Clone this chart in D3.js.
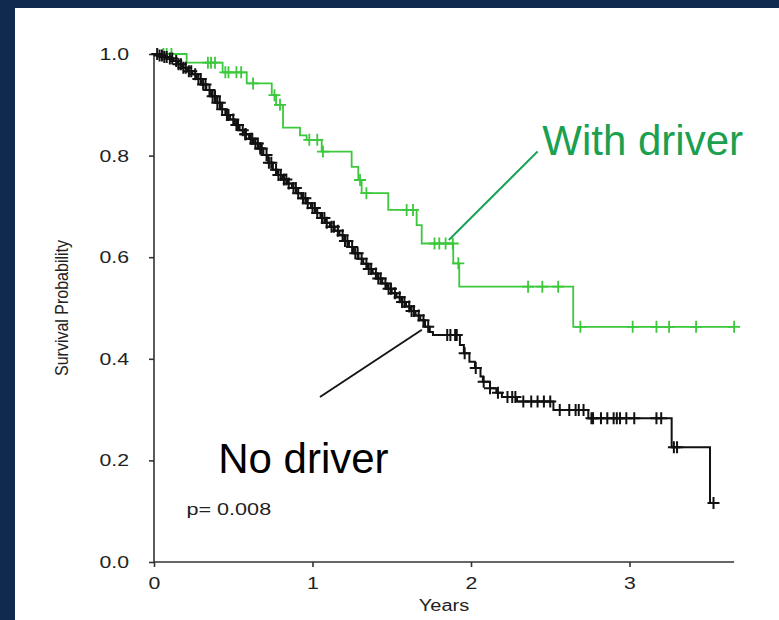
<!DOCTYPE html>
<html>
<head>
<meta charset="utf-8">
<script src="https://cdn.jsdelivr.net/npm/d3@7"></script>
<style>
  body { margin: 0; background: #10294f; }
  text { font-family: "Liberation Sans", Arial, sans-serif; }
</style>
</head>
<body>
<div id="container"></div>
<script>
/* CONSTANTS AND GLOBALS */
const width = 779,
  height = 620,
  margin = {top: 54, bottom: 58, left: 154, right: 45};

/* DATA */
// with driver: event times (years) and survival after each event
const greenTimes = [0, 0.206, 0.433, 0.585, 0.743, 0.77, 0.814, 0.921, 0.963, 1.058, 1.247, 1.289, 1.31, 1.478, 1.657, 1.689, 1.888, 1.926, 2.645]
const greenSurv  = [1, 0.983, 0.964, 0.942, 0.919, 0.90, 0.855, 0.84, 0.831, 0.808, 0.778, 0.752, 0.726, 0.693, 0.663, 0.627, 0.588, 0.542, 0.463]
const greenCensor = [0.06, 0.08, 0.11, 0.34, 0.36, 0.385, 0.45, 0.47, 0.52, 0.55, 0.625, 0.76, 0.795, 0.98, 1.03, 1.066, 1.30, 1.34,
  1.594, 1.634, 1.77, 1.80, 1.84, 1.885, 1.92, 2.36, 2.45, 2.55, 2.69, 3.02, 3.17, 3.25, 3.42, 3.66]
const greenEnd = 3.66

// no driver
const blackTimes = [0, 0.03, 0.06, 0.09, 0.12, 0.15, 0.18, 0.21, 0.24, 0.27, 0.30, 0.33, 0.36, 0.39, 0.42, 0.45, 0.48, 0.51, 0.54, 0.57,
  0.60, 0.63, 0.66, 0.69, 0.72, 0.75, 0.78, 0.81, 0.84, 0.87, 0.90, 0.93, 0.96, 0.99, 1.02, 1.05, 1.08, 1.11, 1.14, 1.17,
  1.20, 1.23, 1.26, 1.29, 1.32, 1.35, 1.38, 1.41, 1.44, 1.47, 1.50, 1.53, 1.56, 1.59, 1.62, 1.65, 1.68, 1.71, 1.74, 1.76,
  1.93, 1.955, 1.99, 2.025, 2.06, 2.075, 2.12, 2.16, 2.195, 2.29, 2.52, 2.74, 3.266, 3.508]
const blackSurv = [1, 0.997, 0.994, 0.991, 0.986, 0.980, 0.973, 0.966, 0.960, 0.951, 0.940, 0.929, 0.917, 0.904, 0.891, 0.880, 0.871, 0.860, 0.850, 0.842,
  0.833, 0.824, 0.814, 0.801, 0.786, 0.772, 0.762, 0.753, 0.745, 0.736, 0.726, 0.716, 0.706, 0.697, 0.687, 0.677, 0.668, 0.660, 0.652, 0.643,
  0.632, 0.620, 0.608, 0.597, 0.587, 0.577, 0.568, 0.558, 0.548, 0.538, 0.529, 0.521, 0.512, 0.503, 0.494, 0.485, 0.476, 0.463, 0.453, 0.447,
  0.427, 0.411, 0.394, 0.382, 0.365, 0.355, 0.342, 0.333, 0.325, 0.316, 0.299, 0.283, 0.226, 0.116]
const blackCensor = [0.02, 0.035, 0.05, 0.065, 0.08, 0.10, 0.115, 0.14, 0.155, 0.17, 0.185, 0.20, 0.22, 0.235, 0.26, 0.28, 0.295, 0.31,
  0.325, 0.35, 0.37, 0.385, 0.40, 0.415, 0.43, 0.46, 0.47, 0.50, 0.52, 0.53, 0.56, 0.575, 0.58, 0.61, 0.62, 0.64, 0.655, 0.67, 0.68,
  0.71, 0.725, 0.74, 0.77, 0.785, 0.80, 0.82, 0.835, 0.85, 0.88, 0.895, 0.91, 0.94, 0.955, 0.97, 1.00, 1.015, 1.03, 1.06, 1.075,
  1.09, 1.12, 1.135, 1.16, 1.19, 1.205, 1.22, 1.25, 1.27, 1.285, 1.31, 1.34, 1.355, 1.37, 1.40, 1.415, 1.43, 1.46, 1.48, 1.495,
  1.52, 1.55, 1.565, 1.58, 1.61, 1.625, 1.64, 1.67, 1.70, 1.73,
  1.85, 1.87, 1.90, 1.91, 1.96, 2.03, 2.08, 2.12, 2.17, 2.23, 2.26, 2.28, 2.33, 2.38, 2.42, 2.46, 2.50,
  2.56, 2.62, 2.66, 2.68, 2.71, 2.76, 2.77, 2.82, 2.86, 2.90, 2.92, 2.94, 2.98, 3.03, 3.17, 3.20, 3.28, 3.30, 3.53]
const blackEnd = 3.53

const xTicks = [0, 1, 2, 3]
const yTicks = [0, 0.2, 0.4, 0.6, 0.8, 1.0]
const xMax = 3.66

// annotation positions (data units)
const greenLabel = {text: "With driver", t: 2.45, v: 0.801, from: [1.86, 0.634], to: [2.42, 0.808]}
const blackLabel = {text: "No driver", t: 0.405, v: 0.175, from: [1.047, 0.325], to: [1.69, 0.457]}
const pLabel = {text: "p= 0.008", t: 0.205, v: 0.0925}

/* SCALES */
const xScale = d3.scaleLinear()
  .domain([0, xMax])
  .range([margin.left, margin.left + xMax * 158.5])

const yScale = d3.scaleLinear()
  .domain([0, 1])
  .range([height - margin.bottom, margin.top])

/* SVG */
const svg = d3.select("#container").append("svg")
  .attr("width", width)
  .attr("height", height)

// navy frame + white panel
svg.append("rect").attr("width", width).attr("height", height).attr("fill", "#10294f")
svg.append("rect").attr("x", 15).attr("y", 8).attr("width", width - 15).attr("height", height - 8).attr("fill", "#ffffff")

/* AXES */
const stretch = "scale(1.25,1)"
const xAxis = d3.axisBottom(xScale).tickValues(xTicks).tickFormat(d3.format("d")).tickSize(5).tickPadding(10)
const yAxis = d3.axisLeft(yScale).tickValues(yTicks).tickFormat(d3.format(".1f")).tickSize(5).tickPadding(15)

const gx = svg.append("g").attr("transform", `translate(0,${yScale(0)})`).call(xAxis)
const gy = svg.append("g").attr("transform", `translate(${xScale(0)},0)`).call(yAxis)
gx.select(".domain").attr("d", `M${xScale(0)},0H${xScale(xMax)}`)
gy.select(".domain").attr("d", `M0,${yScale(0)}V${yScale(1)}`)
;[gx, gy].forEach(g => {
  g.selectAll(".domain, .tick line").attr("stroke", "#333").attr("stroke-width", 1.6)
  g.selectAll("text").attr("font-size", 17).attr("fill", "#222").attr("transform", stretch)
})

svg.append("text")
  .attr("transform", `translate(${(xScale(0) + xScale(xMax)) / 2},${yScale(0) + 49}) ${stretch}`)
  .attr("text-anchor", "middle").attr("font-size", 16).attr("fill", "#222")
  .text("Years")

svg.append("text")
  .attr("transform", `translate(68,${(yScale(0) + yScale(1)) / 2}) rotate(-90) scale(1,1.2)`)
  .attr("text-anchor", "middle").attr("font-size", 16).attr("fill", "#222")
  .text("Survival Probability")

/* CURVES */
const line = d3.line()
  .x(d => xScale(d[0]))
  .y(d => yScale(d[1]))
  .curve(d3.curveStepAfter)

function survAt(times, surv, t) {
  const i = d3.bisectRight(times, t) - 1
  return surv[Math.max(0, i)]
}

const curves = [
  {times: greenTimes, surv: greenSurv, censor: greenCensor, end: greenEnd, color: "#3cc83c", w: 1.8},
  {times: blackTimes, surv: blackSurv, censor: blackCensor, end: blackEnd, color: "#111", w: 2}
]

curves.forEach(c => {
  const pts = c.times.map((t, i) => [t, c.surv[i]])
  pts.push([c.end, c.surv[c.surv.length - 1]])
  svg.append("path")
    .attr("d", line(pts))
    .attr("fill", "none")
    .attr("stroke", c.color)
    .attr("stroke-width", c.w)

  // censor marks "+"
  svg.append("g").selectAll("path")
    .data(c.censor)
    .join("path")
    .attr("d", t => {
      const x = xScale(t), y = yScale(survAt(c.times, c.surv, t))
      return `M${x - 6},${y}H${x + 6}M${x},${y - 6}V${y + 6}`
    })
    .attr("stroke", c.color)
    .attr("stroke-width", c.w)
})

/* ANNOTATIONS */
svg.append("line")
  .attr("x1", xScale(greenLabel.from[0])).attr("y1", yScale(greenLabel.from[1]))
  .attr("x2", xScale(greenLabel.to[0])).attr("y2", yScale(greenLabel.to[1]))
  .attr("stroke", "#1ca25a").attr("stroke-width", 2)

svg.append("text")
  .attr("x", xScale(greenLabel.t)).attr("y", yScale(greenLabel.v))
  .attr("font-size", 42).attr("fill", "#1aa04e")
  .text(greenLabel.text)

svg.append("line")
  .attr("x1", xScale(blackLabel.from[0])).attr("y1", yScale(blackLabel.from[1]))
  .attr("x2", xScale(blackLabel.to[0])).attr("y2", yScale(blackLabel.to[1]))
  .attr("stroke", "#111").attr("stroke-width", 1.8)

svg.append("text")
  .attr("x", xScale(blackLabel.t)).attr("y", yScale(blackLabel.v))
  .attr("font-size", 42).attr("fill", "#000")
  .text(blackLabel.text)

svg.append("text")
  .attr("transform", `translate(${xScale(pLabel.t)},${yScale(pLabel.v)}) scale(1.35,1)`)
  .attr("font-size", 16).attr("fill", "#222")
  .text(pLabel.text)
</script>
</body>
</html>
